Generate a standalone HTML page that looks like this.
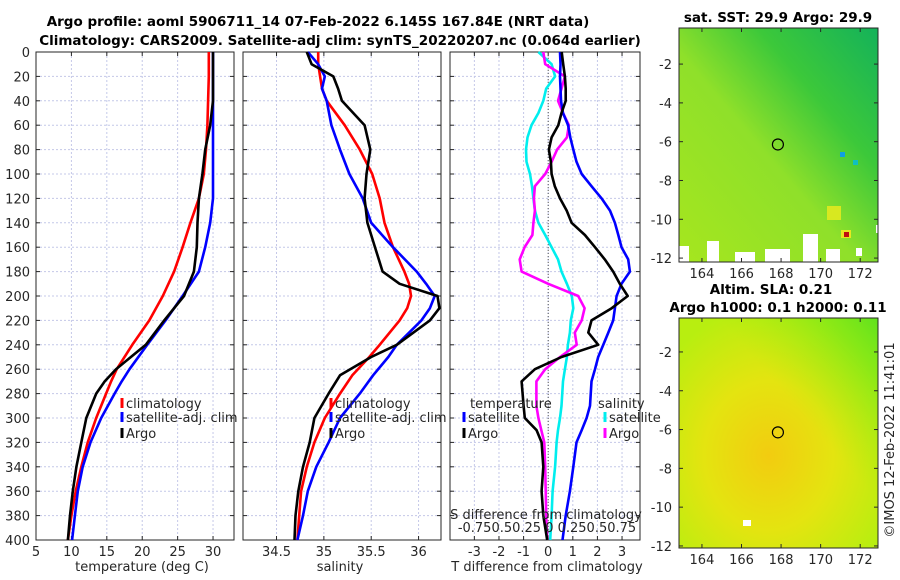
<!DOCTYPE html>
<html><head><meta charset="utf-8"><style>
html,body{margin:0;padding:0;background:#fff;}
svg{display:block;font-family:"DejaVu Sans","Liberation Sans",sans-serif;}
.tk{font-size:13px;fill:#262626;}
.tt{font-size:13.5px;font-weight:bold;fill:#000;}
</style></head><body>
<svg id="fig" width="900" height="580" viewBox="0 0 900 580" xmlns="http://www.w3.org/2000/svg">
<defs>
<linearGradient id="sstg" x1="0" y1="1" x2="1" y2="0">
<stop offset="0" stop-color="#a6e61e"/><stop offset="0.45" stop-color="#8fe02a"/><stop offset="0.7" stop-color="#3cc83a"/><stop offset="1" stop-color="#14b25a"/></linearGradient>
<radialGradient id="slag" cx="0.45" cy="0.6" r="0.65">
<stop offset="0" stop-color="#f2cc10"/><stop offset="0.5" stop-color="#e4e410"/><stop offset="1" stop-color="#b8ee10"/></radialGradient>
<linearGradient id="slag2" x1="0" y1="1" x2="1" y2="0">
<stop offset="0" stop-color="#b0ee10" stop-opacity="0"/><stop offset="0.6" stop-color="#9cee10" stop-opacity="0"/><stop offset="1" stop-color="#50e020" stop-opacity="0.85"/></linearGradient>
</defs>
<text class="tt" x="318" y="26" text-anchor="middle">Argo profile: aoml 5906711_14 07-Feb-2022 6.145S 167.84E (NRT data)</text>
<text class="tt" x="340" y="45" text-anchor="middle">Climatology: CARS2009. Satellite-adj clim: synTS_20220207.nc (0.064d earlier)</text>
<g id="p1"></g>
<g id="p2"></g>
<g id="p3"></g>
<g id="m1"></g>
<g id="m2"></g>
<text class="tk" transform="translate(894,440) rotate(-90)" text-anchor="middle">©IMOS 12-Feb-2022 11:41:01</text>
</svg>
<script>
// ---- temperature panel data ----
const tDepths = [0,20,40,60,80,100,120,140,160,180,200,220,240,260,270,280,300,320,340,360,380,400];
const tClim = [29.4,29.4,29.3,29.2,29.0,28.7,28.0,26.8,25.7,24.5,22.9,21.0,18.6,16.4,15.6,14.9,13.5,12.3,11.4,10.6,10.0,9.5];
const tSat = [30.0,30.0,30.0,30.0,30.0,30.0,30.0,29.6,28.9,28.0,25.7,23.3,20.7,18.2,17.1,16.1,14.2,12.7,11.6,10.9,10.5,10.1];
const tArgo = [30.0,30.0,30.0,29.6,28.9,28.5,28.0,27.8,27.7,27.3,25.9,23.1,20.5,16.3,14.7,13.5,12.1,11.4,10.7,10.2,9.8,9.5];
const tTicks = [5,10,15,20,25,30];
// ---- salinity panel data ----
const sDepths = [0,10,20,30,40,60,80,100,120,140,160,180,190,200,210,220,240,250,265,280,300,320,340,360,380,400];
const sClim = [34.94,34.94,34.96,34.98,35.03,35.22,35.38,35.51,35.59,35.64,35.73,35.85,35.90,35.92,35.88,35.80,35.59,35.48,35.30,35.17,35.01,34.90,34.82,34.76,34.74,34.72];
const sSat = [34.83,34.94,35.01,34.98,35.03,35.08,35.17,35.27,35.41,35.50,35.73,35.98,36.08,36.17,36.12,36.03,35.77,35.68,35.52,35.38,35.17,35.05,34.92,34.83,34.78,34.72];
const sArgo = [34.82,34.87,35.10,35.15,35.19,35.43,35.49,35.45,35.43,35.46,35.54,35.62,35.80,36.20,36.22,36.12,35.77,35.50,35.17,35.05,34.90,34.85,34.78,34.73,34.70,34.69];
const sTicks = [34.5,35,35.5,36];
// ---- difference panel data ----
const dDepths = [0,10,20,30,40,50,60,70,80,90,100,110,120,130,140,150,160,170,180,190,200,210,220,230,240,250,260,270,290,300,310,320,340,360,380,400];
const dTSat = [0.48,0.5,0.48,0.5,0.52,0.6,0.81,0.9,1.02,1.15,1.36,1.76,2.17,2.51,2.71,2.85,2.98,3.25,3.32,2.98,2.78,2.71,2.64,2.44,2.24,2.03,1.9,1.76,1.7,1.56,1.36,1.15,1.02,0.88,0.71,0.58];
const dTArgo = [0.55,0.61,0.68,0.71,0.71,0.54,0.41,0.14,0.03,0.11,0.14,0.27,0.48,0.75,0.95,1.49,1.9,2.3,2.64,2.91,3.23,2.58,1.76,1.63,2.03,0.54,-0.54,-1.08,-1.0,-0.95,-0.47,-0.27,-0.2,-0.27,-0.2,-0.04];
const dSSat = [-0.10,0.035,0.07,-0.02,-0.05,-0.10,-0.17,-0.21,-0.225,-0.22,-0.185,-0.165,-0.15,-0.135,-0.10,-0.03,0.035,0.10,0.135,0.19,0.24,0.255,0.23,0.22,0.20,0.19,0.17,0.15,0.135,0.12,0.10,0.085,0.07,0.045,0.035,0.02];
const dSArgo = [-0.05,-0.03,0.17,0.135,0.10,0.15,0.21,0.19,0.09,0.035,-0.03,-0.135,-0.145,-0.135,-0.15,-0.16,-0.24,-0.29,-0.27,0,0.305,0.37,0.34,0.27,0.29,0.12,-0.03,-0.12,-0.12,-0.10,-0.07,-0.04,-0.03,-0.025,-0.02,-0.01];
const dTTicks = [-3,-2,-1,0,1,2,3];
const depthTicks = [0,20,40,60,80,100,120,140,160,180,200,220,240,260,280,300,320,340,360,380,400];
// ---- map data ----
const lonTicks = [164,166,168,170,172];
const latTicks = [-2,-4,-6,-8,-10,-12];
const argoLon = 167.84, argoLat = -6.145;

const NS = "http://www.w3.org/2000/svg";
function mk(tag, attrs, parent){const e=document.createElementNS(NS,tag);for(const k in attrs)e.setAttribute(k,attrs[k]);parent.appendChild(e);return e;}
function txt(parent,x,y,s,anchor,cls){const t=mk("text",{x:x,y:y,"text-anchor":anchor||"middle",class:cls||"tk"},parent);t.textContent=s;return t;}

const Y0=52, Y1=540;
const yD = d => Y0 + (d/400)*(Y1-Y0);

function panel(g, x0, x1, vmin, vmax, ticks, tickLabels, showDepth){
  const xs = v => x0 + (v-vmin)/(vmax-vmin)*(x1-x0);
  depthTicks.forEach(d=>{ if(d>0&&d<400){const l=mk("line",{x1:x0,x2:x1,y1:yD(d),y2:yD(d),stroke:"#c4c8e8","stroke-width":1,"stroke-dasharray":"2,2"},g);
    
    }});
  ticks.forEach((v,i)=>{const X=xs(v); if(X>x0+1&&X<x1-1){const l=mk("line",{x1:X,x2:X,y1:Y0,y2:Y1,stroke:"#c4c8e8","stroke-width":1,"stroke-dasharray":"2,2"},g);
    
    }
    mk("line",{x1:X,x2:X,y1:Y1,y2:Y1-4,stroke:"#262626"},g); mk("line",{x1:X,x2:X,y1:Y0,y2:Y0+4,stroke:"#262626"},g);
    const t=txt(g,X,Y1+16,tickLabels?tickLabels[i]:String(v));
    
    
  });
  depthTicks.forEach(d=>{mk("line",{x1:x0,x2:x0+4,y1:yD(d),y2:yD(d),stroke:"#262626"},g);mk("line",{x1:x1,x2:x1-4,y1:yD(d),y2:yD(d),stroke:"#262626"},g);
    if(showDepth){const t=txt(g,x0-6,yD(d)+5,String(d),"end");
      
      }});
  const fr=mk("rect",{x:x0,y:Y0,width:x1-x0,height:Y1-Y0,fill:"none",stroke:"#262626","stroke-width":1},g);
  
  
  return xs;
}
function series(g, xs, depths, vals, color, name, scale){
  const pts = vals.map((v,i)=>xs(v*(scale||1)).toFixed(1)+","+yD(depths[i]).toFixed(1)).join(" ");
  const p = mk("polyline",{points:pts,fill:"none",stroke:color,"stroke-width":2.6,"stroke-linejoin":"round"},g);
  
  
}
function legend(g,x,y,color,label){
  mk("line",{x1:x,x2:x,y1:y-10,y2:y,stroke:color,"stroke-width":3},g);
  const t=txt(g,x+4,y,label,"start","tk");
  
  
}

// Panel 1
const g1=document.getElementById("p1");
const xs1=panel(g1,36,234,5,32.96,tTicks,null,true);
series(g1,xs1,tDepths,tClim,"#ff0000","temp-climatology-line");
series(g1,xs1,tDepths,tSat,"#0000ff","temp-satellite-line");
series(g1,xs1,tDepths,tArgo,"#000000","temp-argo-line");
legend(g1,122,408,"#ff0000","climatology");
legend(g1,122,422,"#0000ff","satellite-adj. clim");
legend(g1,122,438,"#000000","Argo");
let a=txt(g1,142,571,"temperature (deg C)");

// Panel 2
const g2=document.getElementById("p2");
const xs2=panel(g2,243,441,34.146,36.237,sTicks,null,false);
series(g2,xs2,sDepths,sClim,"#ff0000","sal-climatology-line");
series(g2,xs2,sDepths,sSat,"#0000ff","sal-satellite-line");
series(g2,xs2,sDepths,sArgo,"#000000","sal-argo-line");
legend(g2,331,408,"#ff0000","climatology");
legend(g2,331,422,"#0000ff","satellite-adj. clim");
legend(g2,331,438,"#000000","Argo");
a=txt(g2,340,571,"salinity");

// Panel 3
const g3=document.getElementById("p3");
const xs3=panel(g3,450,640,-3.99,3.73,dTTicks,null,false);
mk("line",{x1:xs3(0),x2:xs3(0),y1:Y0,y2:Y1,stroke:"#555","stroke-width":1,"stroke-dasharray":"1,2"},g3);
series(g3,xs3,dDepths,dSSat,"#00eeee","sal-diff-satellite-line",4);
series(g3,xs3,dDepths,dSArgo,"#ff00ff","sal-diff-argo-line",4);
series(g3,xs3,dDepths,dTSat,"#0000ff","temp-diff-satellite-line");
series(g3,xs3,dDepths,dTArgo,"#000000","temp-diff-argo-line");
a=txt(g3,470,408,"temperature","start");
legend(g3,464,422,"#0000ff","satellite");
legend(g3,464,438,"#000000","Argo");
a=txt(g3,598,408,"salinity","start");
legend(g3,605,422,"#00eeee","satellite");
legend(g3,605,438,"#ff00ff","Argo");
a=txt(g3,546,519,"S difference from climatology");
a=txt(g3,547,532,"-0.750.50.25 0 0.250.50.75");
a=txt(g3,547,571,"T difference from climatology");

// Maps
function map(g,top,bot,fillId,extra){
  const X0=679,X1=878,lonMin=162.84,lonMax=172.9;
  const latTop = -0.14 - (top===28?0:0.11);
  const xl = v => X0+(v-lonMin)/(lonMax-lonMin)*(X1-X0);
  const yl = v => top + (latTop - v)*19.4;
  const r=mk("rect",{x:X0,y:top,width:X1-X0,height:bot-top,fill:"url(#"+fillId+")"},g);
  
  
  if(extra) extra(g,X0,top,X1,bot);
  lonTicks.forEach(v=>{const X=xl(v);mk("line",{x1:X,x2:X,y1:bot,y2:bot-4,stroke:"#262626"},g);mk("line",{x1:X,x2:X,y1:top,y2:top+4,stroke:"#262626"},g);
    const t=txt(g,X,bot+16,String(v));});
  latTicks.forEach(v=>{const Y=yl(v);mk("line",{x1:X0,x2:X0+4,y1:Y,y2:Y,stroke:"#262626"},g);mk("line",{x1:X1,x2:X1-4,y1:Y,y2:Y,stroke:"#262626"},g);
    const t=txt(g,X0-7,Y+5,String(v),"end");});
  const c=mk("circle",{cx:xl(argoLon),cy:yl(argoLat),r:5.5,fill:"none",stroke:"#000","stroke-width":1.2},g);
  
  
  mk("rect",{x:X0,y:top,width:X1-X0,height:bot-top,fill:"none",stroke:"#262626"},g);
}
const m1=document.getElementById("m1");
map(m1,28,262,"sstg",function(g,X0,T,X1,B){
  [[679,246,10,16],[707,241,12,21],[735,252,20,10],[765,249,25,13],[803,234,15,28],[826,249,14,13],[856,248,6,8],[876,225,6,8]].forEach(r=>{
    const w=mk("rect",{x:r[0],y:r[1],width:r[2],height:r[3],fill:"#fff"},g);});
  mk("rect",{x:827,y:206,width:14,height:14,fill:"#d8e820"},g);
  mk("rect",{x:841,y:230,width:10,height:8,fill:"#e8e820"},g);
  mk("rect",{x:844,y:232,width:5,height:5,fill:"#c01010"},g);
  mk("rect",{x:840,y:152,width:5,height:5,fill:"#10a0e0"},g);
  mk("rect",{x:853,y:160,width:5,height:5,fill:"#10c0c0"},g);
});
const m2=document.getElementById("m2");
map(m2,318,548,"slag",function(g,X0,T,X1,B){
  mk("rect",{x:X0,y:T,width:X1-X0,height:B-T,fill:"url(#slag2)"},g);
  mk("rect",{x:743,y:520,width:8,height:6,fill:"#fff"},g);
});
const tA=txt(m1,778,22,"sat. SST: 29.9 Argo: 29.9","middle","tt");
const tB=txt(m2,771,294,"Altim. SLA: 0.21","middle","tt");
const tC=txt(m2,778,312,"Argo h1000: 0.1 h2000: 0.11","middle","tt");
</script>
</body></html>
